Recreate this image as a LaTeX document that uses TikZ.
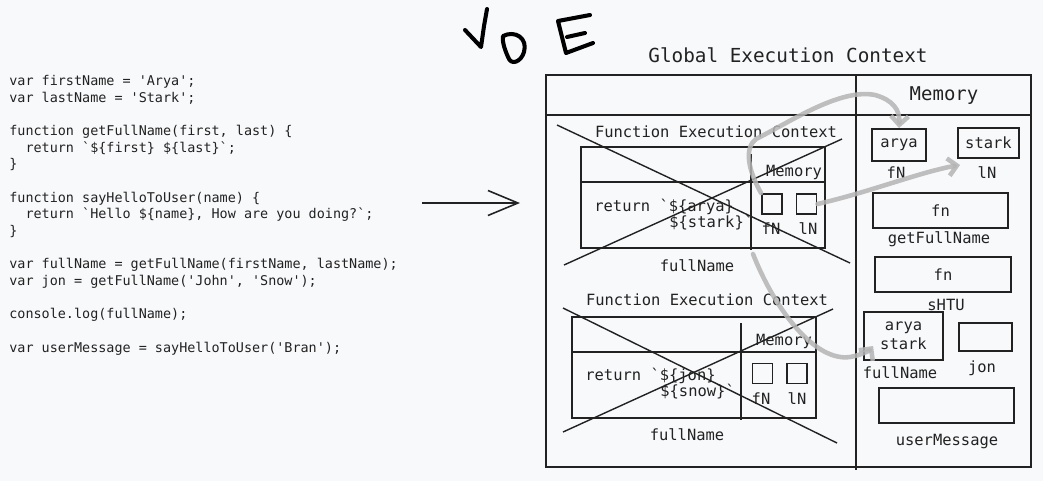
\documentclass[tikz,border=0pt]{standalone}
\usepackage{fontspec}
\setmonofont{DejaVu Sans Mono}
\usepackage{tikz}
\usetikzlibrary{arrows.meta, calc}
\definecolor{paper}{RGB}{248,249,251}
\definecolor{ink}{RGB}{34,34,34}
\definecolor{trail}{RGB}{180,180,180}
\newcommand{\lbl}{\ttfamily\fontsize{8.8}{10.8}\selectfont}
\tikzset{
  frame/.style={draw=ink, line width=1.1pt},
  cross/.style={draw=ink, line width=0.8pt},
  membox/.style={draw=ink, line width=1.1pt, inner sep=0pt, font=\lbl, text=ink},
  lbl/.style={font=\lbl, text=ink, inner sep=0pt},
  code/.style={font=\ttfamily\fontsize{7.65}{9.48}\selectfont, text=ink, align=left, inner sep=0pt},
  trailarrow/.style={draw=trail, line width=2.6pt, line cap=round, opacity=0.85,
    -{Straight Barb[length=5pt,width=10pt]}},
  scribble/.style={draw=black, line width=2.3pt, line cap=round, line join=round}
}

\begin{document}
\begin{tikzpicture}[x=0.02cm, y=-0.02cm]
    \fill[paper] (0,0) rectangle (1043,481);
    \useasboundingbox (0,0) rectangle (1043,481);
    \node[code, anchor=north west] (src) at (9,75) {var firstName = 'Arya';\\
var lastName = 'Stark';\\[9.48pt]
function getFullName(first, last) \{\\
\phantom{xx}return `\$\{first\} \$\{last\}`;\\
\}\\[9.48pt]
function sayHelloToUser(name) \{\\
\phantom{xx}return `Hello \$\{name\}, How are you doing?`;\\
\}\\[9.48pt]
var fullName = getFullName(firstName, lastName);\\
var jon = getFullName('John', 'Snow');\\[9.48pt]
console.log(fullName);\\[9.48pt]
var userMessage = sayHelloToUser('Bran');};
    \coordinate (arra) at (422,203);
    \coordinate (arrb) at (520,203);
    \draw[ink, line width=0.9pt, -{Straight Barb[length=0.6cm,width=0.5cm]}] (arra) -- (arrb);
    \draw[scribble] (465,30) -- (481,47) -- (484,26) -- (487,9);
    \draw[scribble] (503,36) .. controls (515,30) and (528,38) .. (524,52) .. controls (521,62) and (511,66) .. (508,57) .. controls (505,50) and (502,42) .. cycle;
    \draw[scribble] (590,15) -- (558,21) -- (566,53) -- (593,43);
    \draw[scribble] (567,37) -- (585,33);
    \node[lbl, font=\ttfamily\fontsize{11}{13}\selectfont, anchor=base] (gtitle) at (788,62) {Global Execution Context};
    \draw[frame] (546,75) rectangle (1031,467);
    \draw[frame] (546,115) -- (1031,115);
    \draw[frame] (856,75) -- (856,470);
    \node[lbl, font=\ttfamily\fontsize{10.8}{13}\selectfont, anchor=base] (gmem) at (944,100) {Memory};
    \node[lbl, anchor=base] (feca) at (716,137) {Function Execution Context};
    \draw[frame] (581,147) rectangle (825,248);
    \draw[frame] (581,182) -- (825,182);
    \draw[frame] (751,154) -- (751,250);
    \node[lbl, anchor=base] (mema) at (794,176) {Memory};
    \node[membox, minimum size=0.4cm] (fa) at (772,204) {};
    \node[membox, minimum size=0.4cm] (la) at (806.5,204) {};
    \node[lbl, anchor=base] (fna) at (771,234) {fN};
    \node[lbl, anchor=base] (lna) at (808,234) {lN};
    \node[lbl, anchor=base west] (reta) at (594,211) {return `\$\{arya\}};
    \node[lbl, anchor=base west] (retab) at (669,227) {\$\{stark\}`};
    \node[lbl, anchor=base] (outna) at (697,271) {fullName};
    \draw[cross] (557,125) -- (850,263);
    \draw[cross] (564,265) -- (842,139);
    \node[lbl, anchor=base] (fecb) at (707,305) {Function Execution Context};
    \draw[frame] (572,317) rectangle (816,418);
    \draw[frame] (572,352) -- (816,352);
    \draw[frame] (741,323) -- (741,420);
    \node[lbl, anchor=base] (memb) at (784,345) {Memory};
    \node[membox, minimum size=0.4cm] (fb) at (762.5,373.5) {};
    \node[membox, minimum size=0.4cm] (lb) at (797,373.5) {};
    \node[lbl, anchor=base] (fnb) at (761,404) {fN};
    \node[lbl, anchor=base] (lnb) at (797,404) {lN};
    \node[lbl, anchor=base west] (retb) at (585,380) {return `\$\{jon\}};
    \node[lbl, anchor=base west] (retbb) at (660,396) {\$\{snow\}`};
    \node[lbl, anchor=base] (outnb) at (687,440) {fullName};
    \draw[cross] (563,308) -- (837,443);
    \draw[cross] (563,432) -- (833,309);
    \node[membox, minimum width=1.08cm, minimum height=0.64cm] (ary) at (899,145) {arya};
    \node[membox, minimum width=1.22cm, minimum height=0.6cm] (stk) at (988.5,143) {stark};
    \node[lbl, anchor=base] (aryl) at (896,178) {fN};
    \node[lbl, anchor=base] (stkl) at (987,178) {lN};
    \node[membox, minimum width=2.7cm, minimum height=0.7cm] (gfn) at (940.5,210.5) {fn};
    \node[lbl, anchor=base] (gfnl) at (939,243) {getFullName};
    \node[membox, minimum width=2.72cm, minimum height=0.7cm] (shtu) at (943,274.5) {fn};
    \node[lbl, anchor=base] (shtul) at (946,310) {sHTU};
    \node[membox, minimum width=1.58cm, minimum height=0.96cm, align=center] (fnm) at (903.5,336) {arya\\stark};
    \node[lbl, anchor=base] (fnml) at (900,378) {fullName};
    \node[membox, minimum width=1.06cm, minimum height=0.56cm] (jon) at (985.5,337) {};
    \node[lbl, anchor=base] (jonl) at (982,372) {jon};
    \node[membox, minimum width=2.7cm, minimum height=0.7cm] (um) at (946.5,405.5) {};
    \node[lbl, anchor=base] (uml) at (947,445) {userMessage};
    \coordinate (outa) at (753,254);
    \draw[trailarrow] (fa.north west) .. controls (748,170) and (744,148) .. (756,139) .. controls (790,122) and (840,88) .. (875,95) .. controls (893,100) and (900,110) .. (ary.north);
    \draw[trailarrow] (la.east) .. controls (870,192) and (920,172) .. ($(stk.south west)+(3,6)$);
    \draw[trailarrow] (outa) .. controls (775,310) and (815,362) .. (850,357) .. controls (862,355) and (870,350) .. ($(fnm.west)+(10,10)$);
\end{tikzpicture}
\end{document}
